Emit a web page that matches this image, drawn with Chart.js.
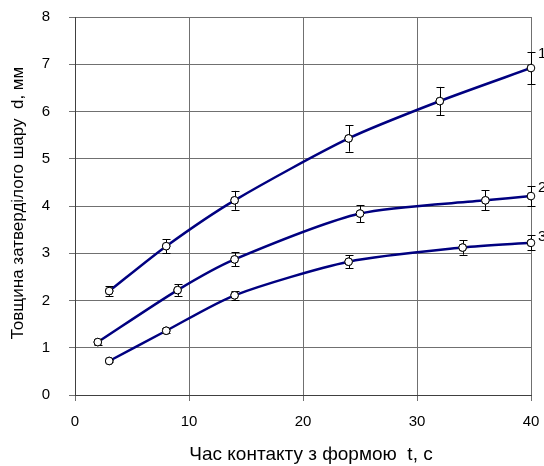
<!DOCTYPE html>
<html lang="uk">
<head>
<meta charset="UTF-8">
<title>Товщина затверділого шару</title>
<script src="https://cdn.jsdelivr.net/npm/chart.js"></script>
<style>
  html, body { margin: 0; padding: 0; background: #fff; }
  #wrap { width: 544px; height: 466px; }
</style>
</head>
<body>
<div id="wrap"><canvas id="chart" width="544" height="466"></canvas></div>
<script>
// data
const t1 = [3, 8, 14, 24, 32, 40];
const d1 = [2.2, 3.15, 4.12, 5.43, 6.22, 6.92];
const e1 = [0.1, 0.15, 0.2, 0.28, 0.3, 0.34];

const t2 = [2, 9, 14, 25, 36, 40];
const d2 = [1.12, 2.22, 2.87, 3.84, 4.12, 4.21];
const e2 = [0.06, 0.12, 0.15, 0.18, 0.21, 0.21];

const t3 = [3, 8, 14, 24, 34, 40];
const d3 = [0.72, 1.36, 2.11, 2.82, 3.12, 3.22];
const e3 = [0.03, 0.05, 0.09, 0.14, 0.15, 0.16];

const curveLabels = ['1', '2', '3'];
const xTicks = [0, 10, 20, 30, 40];

const xTitle = 'Час контакту з формою  t, с';
const yTitle = 'Товщина затверділого шару  d, мм';

const lineColor = '#000080';
const gridColor = '#707070';

function pts(xs, ys) {
    return xs.map((x, i) => ({ x: x, y: ys[i] }));
}

function series(label, xs, ys, errs) {
    return {
        label: label,
        data: pts(xs, ys),
        errors: errs,
        showLine: true,
        borderColor: lineColor,
        borderWidth: 2.5,
        tension: 0.25,
        pointRadius: 3.8,
        pointBorderWidth: 1,
        pointBackgroundColor: '#fff',
        pointBorderColor: '#000'
    };
}

// error bars + curve numbers
const errorBars = {
    id: 'errorBars',
    afterDatasetsDraw(chart) {
        const ctx = chart.ctx;
        const xs = chart.scales.x, ys = chart.scales.y;
        ctx.save();
        ctx.strokeStyle = '#000';
        ctx.lineWidth = 1;
        chart.data.datasets.forEach((ds, di) => {
            ds.data.forEach((p, i) => {
                const err = ds.errors[i];
                const px = Math.round(xs.getPixelForValue(p.x)) + 0.5;
                const top = ys.getPixelForValue(p.y + err);
                const bot = ys.getPixelForValue(p.y - err);
                ctx.beginPath();
                ctx.moveTo(px, top); ctx.lineTo(px, bot);
                ctx.moveTo(px - 4, Math.round(top) + 0.5); ctx.lineTo(px + 4, Math.round(top) + 0.5);
                ctx.moveTo(px - 4, Math.round(bot) + 0.5); ctx.lineTo(px + 4, Math.round(bot) + 0.5);
                ctx.stroke();
            });
            // redraw points on top of the bars
            const meta = chart.getDatasetMeta(di);
            meta.data.forEach(el => {
                ctx.beginPath();
                ctx.arc(el.x, el.y, 3.8, 0, Math.PI * 2);
                ctx.fillStyle = '#fff';
                ctx.fill();
                ctx.stroke();
            });
            const last = ds.data[ds.data.length - 1];
            ctx.fillStyle = '#000';
            ctx.font = '15px "Liberation Sans", Arial, sans-serif';
            ctx.textAlign = 'left';
            ctx.textBaseline = 'middle';
            ctx.fillText(curveLabels[di], xs.getPixelForValue(last.x) + 7,
                ys.getPixelForValue(last.y + ds.errors[ds.errors.length - 1]) + 2);
        });
        ctx.restore();
    }
};

// axis titles
const axisTitles = {
    id: 'axisTitles',
    afterDraw(chart) {
        const ctx = chart.ctx;
        ctx.save();
        ctx.fillStyle = '#000';
        ctx.textAlign = 'center';
        ctx.textBaseline = 'middle';
        ctx.font = '19px "Liberation Sans Narrow", "Liberation Sans", Arial, sans-serif';
        ctx.fillText(xTitle, 311, 455);
        ctx.translate(18, 203);
        ctx.rotate(-Math.PI / 2);
        ctx.font = '17px "Liberation Sans", Arial, sans-serif';
        ctx.fillText(yTitle, 0, 0);
        ctx.restore();
    }
};

const ctx = document.getElementById('chart').getContext('2d');
new Chart(ctx, {
    type: 'scatter',
    data: {
        datasets: [
            series('1', t1, d1, e1),
            series('2', t2, d2, e2),
            series('3', t3, d3, e3)
        ]
    },
    options: {
        responsive: false,
        animation: false,
        layout: { padding: { top: 17, right: 13, left: 0, bottom: 0 } },
        plugins: {
            legend: { display: false },
            tooltip: { enabled: false }
        },
        scales: {
            x: {
                type: 'linear',
                min: 0, max: 40,
                afterBuildTicks: axis => { axis.ticks = xTicks.map(v => ({ value: v })); },
                afterFit: axis => {
                    axis.height = 71;
                    axis.paddingLeft = 0;
                    axis.paddingRight = 0;
                },
                grid: { color: gridColor, lineWidth: 1, tickLength: 6, drawTicks: true },
                border: { color: '#404040', width: 1 },
                ticks: {
                    color: '#000',
                    padding: 12,
                    font: { family: '"Liberation Sans", Arial, sans-serif', size: 15 }
                }
            },
            y: {
                type: 'linear',
                min: 0, max: 8,
                ticks: {
                    stepSize: 1,
                    color: '#000',
                    padding: 19,
                    font: { family: '"Liberation Sans", Arial, sans-serif', size: 15 }
                },
                afterFit: axis => {
                    axis.width = 75;
                    axis.paddingTop = 0;
                    axis.paddingBottom = 0;
                },
                grid: { color: gridColor, lineWidth: 1, tickLength: 6, drawTicks: true },
                border: { color: '#404040', width: 1 }
            }
        }
    },
    plugins: [errorBars, axisTitles]
});
</script>
</body>
</html>
